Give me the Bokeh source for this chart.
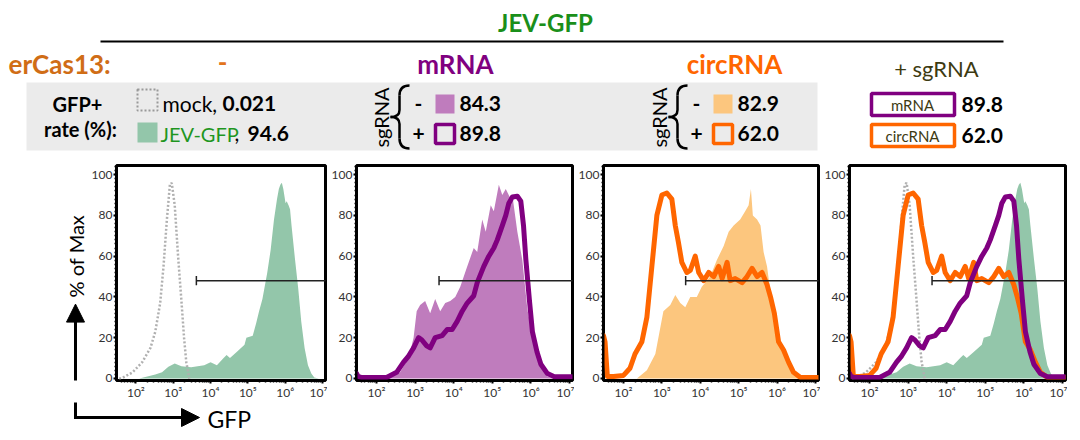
import numpy as np
from bokeh.plotting import figure
from bokeh.models import Range1d, FixedTicker, Arrow, NormalHead
from bokeh.layouts import column, row
from bokeh.core.properties import value
from bokeh.embed import file_html
from bokeh.resources import INLINE

FONT = "Lato"

# ---------------- data (log10 GFP, % of Max) ----------------
jev_lx = [1.48, 2.09, 2.52, 2.70, 2.87, 3.04, 3.22, 3.48, 3.83, 4.00, 4.17, 4.35, 4.43, 4.52, 4.70,
          4.91, 4.96, 5.13, 5.22, 5.30, 5.39, 5.52, 5.61, 5.70, 5.78, 5.83, 5.87, 5.91, 5.95, 6.01,
          6.04, 6.09, 6.13, 6.17, 6.26, 6.35, 6.43, 6.52, 6.61, 6.70, 6.78, 6.90, 7.08]
jev_y = [0, 0, 2, 3, 5.7, 7.3, 6, 5.5, 6.5, 8, 6.5, 10, 11.5, 10, 13,
         16.5, 20, 21, 27, 33, 39, 52, 63, 78, 88, 93, 95, 96, 93, 86,
         87, 85, 83, 75, 59, 44, 28, 15, 6.5, 2.4, 0.5, 0, 0]

mock_lx = [1.55, 1.61, 1.91, 2.17, 2.39, 2.52, 2.65, 2.74, 2.83, 2.91, 2.96, 3.04, 3.13, 3.22, 3.29, 3.35, 3.43]
mock_y = [0, 0, 3, 8, 15, 23, 37, 55, 78, 95, 96, 85, 60, 38, 20, 8, 0]

mrna_minus_lx = [1.48, 2.26, 2.61, 2.83, 2.96, 3.04, 3.13, 3.26, 3.39, 3.52, 3.65, 3.78, 3.91, 4.04, 4.17,
                 4.35, 4.52, 4.61, 4.74, 4.83, 4.96, 5.04, 5.17, 5.26, 5.35, 5.48, 5.52, 5.65, 5.78, 5.91,
                 6.09, 6.26, 6.43, 6.60, 7.08]
mrna_minus_y = [0, 0, 3, 10, 20, 33, 36, 38, 32, 39, 33, 37, 38, 40, 45,
                55, 64, 62, 78, 72, 85, 82, 95, 90, 93, 88, 90, 72, 58, 34,
                16, 6, 1, 0, 0]

mrna_plus_lx = [1.48, 1.52, 1.60, 2.26, 2.52, 2.70, 2.83, 2.96, 3.09, 3.17, 3.30, 3.39, 3.52, 3.70, 3.83,
                3.96, 4.09, 4.22, 4.35, 4.52, 4.61, 4.78, 4.91, 5.04, 5.13, 5.26, 5.35, 5.43, 5.52, 5.65,
                5.74, 5.81, 5.87, 5.96, 6.04, 6.16, 6.26, 6.43, 6.61, 7.08]
mrna_plus_y = [2.5, 1, 0.5, 0.5, 3, 8, 11, 15, 20, 19, 16, 15, 20, 21, 24,
               24, 28, 33, 37, 40.6, 47, 55, 60, 64, 68, 75, 80, 86, 89, 89.4,
               87, 75, 58.5, 39, 23, 13, 7, 2.4, 0.8, 0.8]

circ_minus_lx = [1.48, 2.35, 2.61, 2.83, 2.96, 3.04, 3.22, 3.35, 3.48, 3.61, 3.74, 3.91, 4.04, 4.26, 4.43,
                 4.61, 4.74, 4.87, 5.04, 5.17, 5.26, 5.32, 5.37, 5.48, 5.57, 5.65, 5.74, 5.83, 5.96, 6.09,
                 6.26, 6.43, 6.61, 7.08]
circ_minus_y = [0, 0, 4, 12, 25, 33, 36, 41, 37, 35, 40, 40, 45, 50, 58,
                65, 72, 75, 78, 82, 85, 93, 80, 78, 75, 62, 55, 42, 28, 17,
                8, 3, 0, 0]

circ_plus_lx = [1.48, 1.52, 1.58, 1.74, 2.00, 2.17, 2.30, 2.48, 2.61, 2.74, 2.87, 3.00, 3.13, 3.26, 3.35,
                3.43, 3.52, 3.65, 3.74, 3.87, 3.96, 4.09, 4.22, 4.35, 4.48, 4.57, 4.70, 4.78, 4.91, 5.09,
                5.22, 5.35, 5.48, 5.61, 5.74, 5.83, 5.93, 6.04, 6.17, 6.30, 6.43, 6.61, 7.09]
circ_plus_y = [21, 18, 1, 1, 1.5, 5, 12, 18, 30, 55, 80, 90, 91, 88, 75,
               67, 57, 52, 53, 60, 52, 48, 52, 50, 55, 49, 57, 48, 49, 47,
               50, 54, 50, 52, 46, 40, 32, 18, 14, 8, 3, 0.5, 0.5]

gate_lx = 3.62
gate_y = 48

x_major = [1e2, 1e3, 1e4, 1e5, 1e6, 1e7]
x_labels = ["10²", "10³", "10⁴", "10⁵", "10⁶", "10⁷"]
y_major = [0, 20, 40, 60, 80, 100]

# GFP+ rates (%)
rate_mock = "0.021"
rate_jev = "94.6"
rate_mrna = ["84.3", "89.8"]
rate_circ = ["82.9", "62.0"]

GREEN_FILL = "#93c6aa"
PURPLE = "#800080"
PURPLE_FILL = "#bf7cbd"
ORANGE = "#ff6600"
ORANGE_FILL = "#fcc67e"
MOCK = "#b0b0b0"


def panel(width, border_left, border_bottom):
    p = figure(width=width, height=5 + 215 + border_bottom, x_axis_type="log",
               x_range=Range1d(10 ** 1.48, 10 ** 7.08), y_range=Range1d(-1, 104.5),
               output_backend="svg", toolbar_location=None,
               min_border_left=border_left, min_border_right=2,
               min_border_top=5, min_border_bottom=border_bottom)
    p.grid.visible = False
    p.outline_line_color = "black"
    p.outline_line_width = 3
    p.outline_line_alpha = 1
    p.xaxis.ticker = FixedTicker(ticks=x_major,
                                 minor_ticks=[k * 10 ** e for e in range(1, 8) for k in range(2, 10)])
    p.xaxis.major_label_overrides = {t: s for t, s in zip(x_major, x_labels)}
    p.yaxis.ticker = FixedTicker(ticks=y_major, minor_ticks=list(range(0, 106, 2)))
    p.axis.axis_line_width = 2
    p.axis.major_tick_line_width = 2
    p.axis.major_tick_in = 0
    p.axis.major_tick_out = 3
    p.axis.minor_tick_in = 0
    p.axis.minor_tick_out = 2
    p.axis.minor_tick_line_width = 1.5
    p.axis.major_label_text_font = FONT
    p.axis.major_label_text_font_size = "12px"
    p.axis.major_label_text_color = "#333333"
    p.axis.major_label_standoff = 1
    return p


def gate(p):
    g = 10 ** gate_lx
    p.segment(x0=[g], y0=[gate_y], x1=[1e8], y1=[gate_y], line_color="#222222", line_width=1.5)
    p.segment(x0=[g], y0=[gate_y - 2.3], x1=[g], y1=[gate_y + 2.3], line_color="#222222", line_width=1.5)


def fill(p, lx, y, color):
    p.varea(x=10 ** np.array(lx), y1=0, y2=y, fill_color=color)


def trace(p, lx, y, color):
    p.line(10 ** np.array(lx), y, line_color=color, line_width=5, line_join="round", line_cap="round")


def dotted(p):
    p.line(10 ** np.array(mock_lx), mock_y, line_color=MOCK, line_width=2.5, line_dash="2 2")


def canvas(width, height, x0, y0):
    # plain drawing strip whose coordinates are page pixels
    c = figure(width=width, height=height, x_range=Range1d(x0, x0 + width),
               y_range=Range1d(y0 + height, y0), x_axis_type=None, y_axis_type=None,
               output_backend="svg", toolbar_location=None, min_border=0)
    c.grid.visible = False
    c.outline_line_color = None
    return c


def txt(c, x, y, s, size, color="black", bold=False, align="left", angle=0.0):
    c.text(x=[x], y=[y], text=[s], text_font=value(FONT), text_font_size=f"{size}px",
           text_font_style="bold" if bold else "normal", text_color=color,
           text_align=align, text_baseline="middle", angle=angle)


def head():
    return NormalHead(size=18, fill_color="black", line_color="black", line_width=1)


# panel 1: mock vs JEV-GFP
p1 = panel(239, 22, 22)
fill(p1, jev_lx, jev_y, GREEN_FILL)
dotted(p1)
gate(p1)

# axis arrows and titles next to panel 1
left_strip = canvas(88, 242, 0, 160)
left_strip.add_layout(Arrow(end=head(), x_start=75, y_start=403, x_end=75, y_end=316,
                            line_width=3, line_color="black"))
txt(left_strip, 75, 262, "% of Max", 20, angle=np.pi / 2, align="center")

bottom_strip = canvas(327, 38, 0, 402)
bottom_strip.segment(x0=[75], y0=[401], x1=[75], y1=[418], line_width=3, line_color="black")
bottom_strip.add_layout(Arrow(end=head(), x_start=73.5, y_start=417, x_end=199, y_end=417,
                              line_width=3, line_color="black"))
txt(bottom_strip, 207, 418, "GFP", 23)

# panel 2: erCas13 mRNA
p2 = panel(247, 29, 60)
fill(p2, mrna_minus_lx, mrna_minus_y, PURPLE_FILL)
trace(p2, mrna_plus_lx, mrna_plus_y, PURPLE)
gate(p2)

# panel 3: erCas13 circRNA
p3 = panel(246, 29, 60)
fill(p3, circ_minus_lx, circ_minus_y, ORANGE_FILL)
trace(p3, circ_plus_lx, circ_plus_y, ORANGE)
gate(p3)

# panel 4: overlay
p4 = panel(247, 29, 60)
fill(p4, jev_lx, jev_y, GREEN_FILL)
dotted(p4)
trace(p4, circ_plus_lx, circ_plus_y, ORANGE)
trace(p4, mrna_plus_lx, mrna_plus_y, PURPLE)
gate(p4)

# ---------------- header ----------------
h = canvas(1080, 160, 0, 0)


def brace(x, top, bot):
    mid = (top + bot) / 2
    xs0 = [x + 19, x + 9, x + 9, x, x + 9, x + 9]
    ys0 = [top, top + 10, mid - 7, mid, mid + 7, bot - 10]
    xs1 = [x + 9, x + 9, x, x + 9, x + 9, x + 19]
    ys1 = [top + 10, mid - 7, mid, mid + 7, bot - 10, bot]
    cx0 = [x + 12, x + 9, x + 9, x + 5, x + 9, x + 9]
    cy0 = [top, mid - 7, mid - 2, mid, mid + 7, bot - 4]
    cx1 = [x + 9, x + 9, x + 5, x + 9, x + 9, x + 12]
    cy1 = [top + 4, mid - 7, mid, mid + 2, bot - 10, bot]
    h.bezier(x0=xs0, y0=ys0, x1=xs1, y1=ys1, cx0=cx0, cy0=cy0, cx1=cx1, cy1=cy1,
             line_color="black", line_width=2.5)


txt(h, 545, 22, "JEV-GFP", 24, "#1a8f1a", bold=True, align="center")
h.segment(x0=[100], y0=[41], x1=[1003], y1=[41], line_color="black", line_width=2)

txt(h, 8, 63, "erCas13:", 26, "#d06d16", bold=True)
txt(h, 222, 62, "-", 26, "#e2741c", bold=True, align="center")
txt(h, 455, 63, "mRNA", 26, PURPLE, bold=True, align="center")
txt(h, 734, 63, "circRNA", 26, ORANGE, bold=True, align="center")
txt(h, 936, 68, "+ sgRNA", 22, "#3d3a12", align="center")

h.quad(left=[26], right=[817], top=[82], bottom=[150], fill_color="#ebebeb", line_color=None)
txt(h, 77, 103, "GFP+", 20, bold=True, align="center")
txt(h, 80, 128, "rate (%):", 20, bold=True, align="center")

h.quad(left=[137], right=[157], top=[89], bottom=[110], fill_color=None,
       line_color="#999999", line_width=2, line_dash="2 2")
txt(h, 162, 103, "mock,", 21)
txt(h, 222, 103, rate_mock, 21, bold=True)
h.quad(left=[137], right=[157], top=[122], bottom=[142], fill_color=GREEN_FILL, line_color=None)
txt(h, 160, 133, "JEV-GFP", 20, "#1f961f")
txt(h, 234, 133, ",", 21)
txt(h, 247, 133, rate_jev, 21, bold=True)

for gx, fc, lc, vals in [(0, PURPLE_FILL, PURPLE, rate_mrna), (278, ORANGE_FILL, ORANGE, rate_circ)]:
    txt(h, 380 + gx, 117, "sgRNA", 20, angle=np.pi / 2, align="center")
    brace(390 + gx, 85, 148)
    txt(h, 418 + gx, 103, "-", 21, bold=True, align="center")
    txt(h, 418 + gx, 133, "+", 21, bold=True, align="center")
    h.quad(left=[435 + gx], right=[454 + gx], top=[94], bottom=[113], fill_color=fc, line_color=None)
    h.quad(left=[435 + gx], right=[454 + gx], top=[124], bottom=[143], fill_color="#ebebeb",
           line_color=lc, line_width=3.5)
    txt(h, 459 + gx, 103, vals[0], 21, bold=True)
    txt(h, 459 + gx, 133, vals[1], 21, bold=True)

for yy, lc, name, v in [(104, PURPLE, "mRNA", rate_mrna[1]), (135, ORANGE, "circRNA", rate_circ[1])]:
    h.quad(left=[871], right=[954], top=[yy - 11], bottom=[yy + 11], fill_color="white",
           line_color=lc, line_width=3.5)
    txt(h, 912, yy, name, 15, "#3d3a12", align="center")
    txt(h, 961, yy, v, 21, bold=True)

panel1 = column(row(left_strip, p1), bottom_strip)
layout = column(h, row(panel1, p2, p3, p4))
open("out.html", "w").write(file_html(layout, INLINE))
